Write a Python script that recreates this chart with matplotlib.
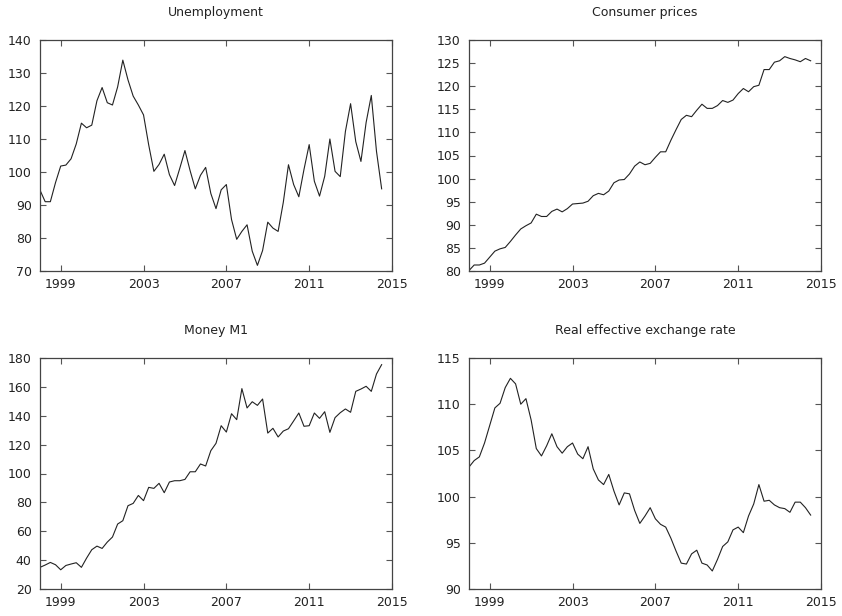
import numpy as np
import matplotlib
matplotlib.use("Agg")
import matplotlib.pyplot as plt

# quarterly data, 1998Q1 - 2014Q3
unemployment = [94.5, 91.0, 91.0, 96.8, 101.8, 102.1, 104.0, 108.5, 114.8, 113.4,
                114.2, 121.6, 125.6, 121.0, 120.3, 125.8, 133.9, 127.9, 123.0, 120.3,
                117.3, 108.2, 100.2, 102.3, 105.4, 99.2, 95.9, 101.1, 106.5, 100.4,
                94.9, 99.0, 101.4, 93.5, 88.9, 94.6, 96.2, 85.6, 79.6, 82.0,
                84.0, 76.0, 71.7, 76.2, 84.8, 83.0, 82.0, 90.8, 102.2, 96.2,
                92.5, 100.8, 108.3, 97.2, 92.7, 98.7, 110.0, 100.2, 98.6, 112.3,
                120.7, 109.2, 103.2, 115.0, 123.2, 106.3, 94.9]

consumer_prices = [80.1, 81.3, 81.3, 81.7, 83.0, 84.3, 84.8, 85.1, 86.4, 87.8,
                   89.1, 89.8, 90.4, 92.3, 91.8, 91.8, 92.9, 93.4, 92.8, 93.5,
                   94.5, 94.6, 94.7, 95.1, 96.3, 96.8, 96.5, 97.3, 99.1, 99.7,
                   99.8, 101.0, 102.7, 103.6, 103.0, 103.3, 104.6, 105.8, 105.8, 108.3,
                   110.6, 112.8, 113.7, 113.4, 114.8, 116.1, 115.2, 115.2, 115.8, 116.9,
                   116.5, 117.0, 118.4, 119.5, 118.8, 119.9, 120.2, 123.6, 123.6, 125.2,
                   125.5, 126.4, 126.0, 125.7, 125.3, 126.0, 125.5]

money_m1 = [35.0, 36.6, 38.4, 36.8, 33.3, 36.3, 37.3, 38.2, 35.0, 41.4,
            47.2, 49.7, 48.1, 52.5, 56.0, 65.0, 67.3, 77.7, 79.3, 84.8,
            81.2, 90.4, 89.7, 93.2, 86.7, 94.1, 95.0, 95.0, 95.9, 101.2,
            101.2, 106.6, 105.2, 115.8, 120.9, 133.1, 128.7, 141.4, 137.3, 158.8,
            145.4, 149.7, 147.2, 151.6, 128.0, 131.3, 125.3, 129.4, 131.0, 136.4,
            141.9, 132.7, 133.1, 141.9, 138.2, 142.8, 128.5, 138.7, 142.1, 144.7,
            142.4, 156.9, 158.5, 160.4, 156.9, 168.9, 175.4]

reer = [103.2, 103.9, 104.3, 105.8, 107.7, 109.6, 110.1, 111.8, 112.8, 112.2,
        110.0, 110.6, 108.3, 105.2, 104.4, 105.5, 106.8, 105.4, 104.7, 105.4,
        105.8, 104.6, 104.1, 105.4, 103.0, 101.8, 101.3, 102.4, 100.6, 99.1,
        100.4, 100.3, 98.5, 97.1, 97.9, 98.8, 97.6, 97.0, 96.7, 95.5,
        94.1, 92.8, 92.7, 93.8, 94.2, 92.8, 92.6, 91.95, 93.2, 94.6,
        95.1, 96.4, 96.7, 96.1, 97.9, 99.2, 101.3, 99.5, 99.6, 99.1,
        98.8, 98.7, 98.3, 99.4, 99.4, 98.8, 98.0]

titles = ["Unemployment", "Consumer prices", "Money M1", "Real effective exchange rate"]
series = [unemployment, consumer_prices, money_m1, reer]
ylims = [(70, 140), (80, 130), (20, 180), (90, 115)]
ysteps = [10, 5, 20, 5]
xticks = [1999, 2003, 2007, 2011, 2015]

t = 1998 + np.arange(len(unemployment)) / 4.0

W, H = 842, 616
fig = plt.figure(figsize=(W / 100, H / 100), dpi=100)

# axes boxes in pixels: left, top, right, bottom
boxes = [(40, 40, 392, 271), (469, 40, 821, 271),
         (40, 358, 392, 589), (469, 358, 821, 589)]

for i in range(4):
    l, tp, r, b = boxes[i]
    ax = fig.add_axes([l / W, 1 - b / H, (r - l) / W, (b - tp) / H])
    ax.plot(t, series[i], color='#222222', lw=0.8)
    ax.set_xlim(1998, 2015)
    ax.set_ylim(*ylims[i])
    ax.set_xticks(xticks)
    ax.set_yticks(np.arange(ylims[i][0], ylims[i][1] + 0.1, ysteps[i]))
    ax.tick_params(direction='in', length=4, width=0.8, color='#555555',
                   top=True, right=True, labelsize=9, labelcolor='#222222')
    ax.tick_params(axis='y', pad=6)
    ax.tick_params(axis='x', pad=5)
    for s in ax.spines.values():
        s.set_color('#444444')
        s.set_linewidth(0.9)
    ax.set_title(titles[i], fontsize=9, color='#222222', pad=17)

fig.savefig("out.png", dpi=100)
